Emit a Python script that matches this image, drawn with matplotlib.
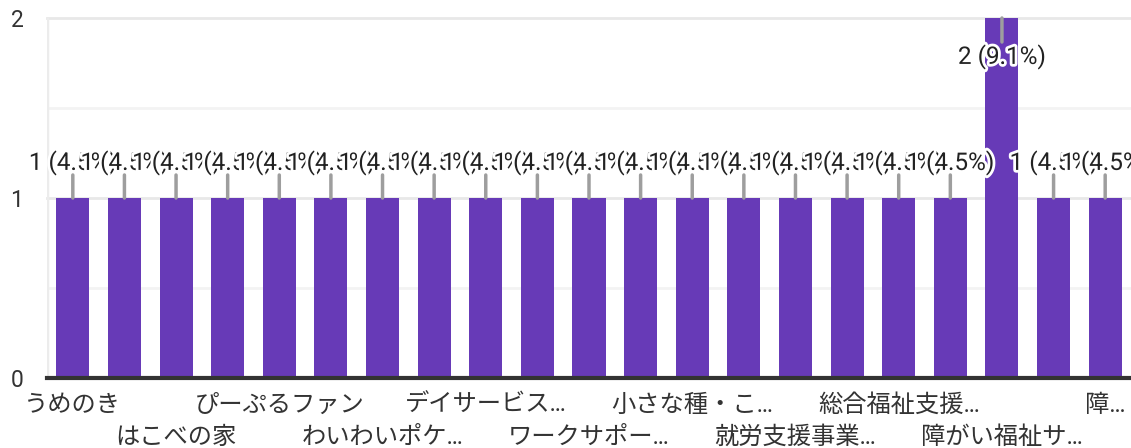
"""Bar chart of responses per facility (Google Forms style)."""
import matplotlib
matplotlib.use("Agg")
import matplotlib.pyplot as plt
import matplotlib.patheffects as pe
import numpy as np

plt.rcParams["font.family"] = ["Roboto", "Noto Sans CJK JP", "DejaVu Sans"]

# --- Data ---
counts = [1, 1, 1, 1, 1, 1, 1, 1, 1, 1, 1, 1, 1, 1, 1, 1, 1, 1, 2, 1, 1]
# only every other category label is visible in the chart
tick_labels = ["うめのき", "はこべの家", "ぴーぷるファン", "わいわいポケ…",
               "デイサービス…", "ワークサポー…", "小さな種・こ…", "就労支援事業…",
               "総合福祉支援…", "障がい福祉サ…", "障…"]
tick_idx = list(range(0, 21, 2))

total = sum(counts)
bar_color = "#673ab7"
text_color = "#222222"

fig = plt.figure(figsize=(11.31, 4.48), dpi=100)
ax = fig.add_axes([47 / 1131, 70 / 448, 1 - 47 / 1131, 360 / 448])

x = np.arange(len(counts))
ax.bar(x, counts, width=0.64, color=bar_color, zorder=3)

ax.set_xlim(-0.5, len(counts) - 0.5)
ax.set_ylim(0, 2)
ax.set_yticks([0, 1, 2])
ax.set_yticklabels(["0", "1", "2"], fontsize=16.5, color="#333333")
ax.tick_params(axis="y", length=0, pad=17)

# gridlines
for yv in [1, 2]:
    ax.axhline(yv, color="#e8e8e8", lw=2, zorder=1, clip_on=False)
for yv in [0.5, 1.5]:
    ax.axhline(yv, color="#f3f3f3", lw=2, zorder=1)
ax.axvline(-0.5, color="#ececec", lw=2.5, zorder=1)
ax.axhline(0, color="#333333", lw=3, zorder=4, clip_on=False)

for s in ax.spines.values():
    s.set_visible(False)

# x labels, staggered in two rows
ax.set_xticks([])
for k, (i, lab) in enumerate(zip(tick_idx, tick_labels)):
    dy = -27 if k % 2 == 0 else -59
    ax.annotate(lab, (i, 0), xytext=(0, dy), textcoords="offset pixels",
                ha="center", va="center", fontsize=17.5, color="#333333",
                annotation_clip=False)

# value labels with leader lines
halo = [pe.withStroke(linewidth=4, foreground="white")]
for i, c in enumerate(counts):
    txt = f"{c} ({c / total * 100:.1f}%)"
    if c < 2:
        ax.annotate("", (i, c), xytext=(0, 23), textcoords="offset pixels",
                    arrowprops=dict(arrowstyle="-", color="#9e9e9e", lw=2.5,
                                    shrinkA=0, shrinkB=0), zorder=5)
        ax.annotate(txt, (i, c), xytext=(0, 35), textcoords="offset pixels",
                    ha="center", va="center", fontsize=17.5, color=text_color,
                    path_effects=halo, zorder=6, annotation_clip=False)
    else:
        ax.annotate("", (i, c), xytext=(0, -24), textcoords="offset pixels",
                    arrowprops=dict(arrowstyle="-", color="#9e9e9e", lw=2.5,
                                    shrinkA=0, shrinkB=0), zorder=5)
        ax.annotate(txt, (i, c), xytext=(0, -39), textcoords="offset pixels",
                    ha="center", va="center", fontsize=17.5, color=text_color,
                    path_effects=halo, zorder=6, annotation_clip=False)

fig.savefig("out.png", dpi=100)
